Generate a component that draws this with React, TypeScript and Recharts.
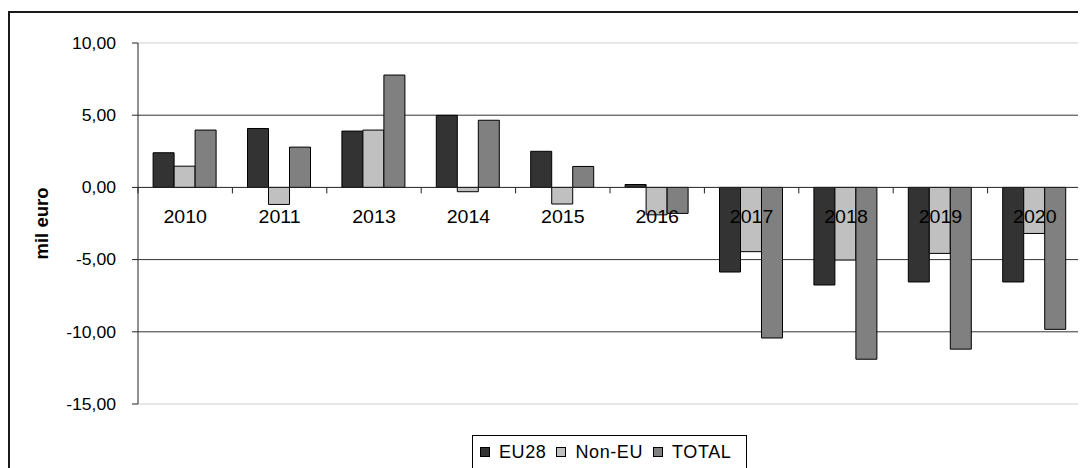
import React from 'react';
import { BarChart, Bar, XAxis, YAxis, CartesianGrid, ReferenceLine } from 'recharts';

const categories = ['2010', '2011', '2013', '2014', '2015', '2016', '2017', '2018', '2019', '2020'];
const eu28 = [2.4, 4.08, 3.9, 4.99, 2.5, 0.2, -5.86, -6.76, -6.55, -6.55];
const nonEu = [1.47, -1.18, 3.97, -0.3, -1.15, -1.9, -4.45, -5.03, -4.57, -3.19];
const total = [3.97, 2.79, 7.78, 4.65, 1.45, -1.8, -10.43, -11.9, -11.2, -9.83];
const yTicks = [10, 5, 0, -5, -10, -15];
const darkGrid = [5, -5, -10];
const lightGrid = [10, -15];
const seriesNames = ['EU28', 'Non-EU', 'TOTAL'];
const seriesColors = ['#333333', '#c0c0c0', '#808080'];

const data = categories.map((c, i) => ({ year: c, EU28: eu28[i], 'Non-EU': nonEu[i], TOTAL: total[i] }));

const W = 1078;
const H = 460;
const margin = { top: 35, right: 4, bottom: 63, left: 70 };
const Y_W = 60;
const X_H = 1;
const yMin = -15;
const yMax = 10;
const plotW = W - margin.left - margin.right - Y_W;
const plotH = H - margin.top - margin.bottom - X_H;
const zeroY = margin.top + (plotH * (yMax - 0)) / (yMax - yMin);
const band = plotW / categories.length;
const FONT = '"Liberation Sans", Arial, sans-serif';
const SX = 1.1;

const fmt = (v: number) => v.toFixed(2).replace('.', ',');

const XTick = (props: any) => {
  const { x, payload, index } = props;
  return (
    <g>
      <line x1={x - band / 2} y1={zeroY} x2={x - band / 2} y2={zeroY + 6} stroke="#222" strokeWidth={1} />
      {index === categories.length - 1 && (
        <line x1={x + band / 2} y1={zeroY} x2={x + band / 2} y2={zeroY + 6} stroke="#222" strokeWidth={1} />
      )}
      <text
        transform={`translate(${x},${zeroY + 36}) scale(1.12,1)`}
        textAnchor="middle"
        fontFamily={FONT}
        fontSize={17.5}
        fill="#000"
      >
        {payload.value}
      </text>
    </g>
  );
};

const YTick = (props: any) => {
  const { x, y, payload } = props;
  return (
    <text
      transform={`translate(${x},${y}) scale(${SX},1)`}
      textAnchor="end"
      dy="0.36em"
      fontFamily={FONT}
      fontSize={16}
      fill="#000"
    >
      {fmt(payload.value)}
    </text>
  );
};

const YLabel = () => (
  <text
    transform={`translate(${40},${margin.top + plotH / 2}) rotate(-90)`}
    textAnchor="middle"
    fontFamily={FONT}
    fontSize={18.5}
    fontWeight="bold"
    fill="#000"
  >
    mil euro
  </text>
);

const LegendBox = () => (
  <div
    style={{
      position: 'absolute',
      left: 464,
      top: 427,
      width: 275,
      height: 50,
      display: 'flex',
      alignItems: 'center',
      border: '1px solid #000',
      paddingLeft: 7,
      paddingBottom: 16,
      boxSizing: 'border-box',
      background: '#fff',
      fontFamily: FONT,
      fontSize: 18,
      letterSpacing: 0.6,
      color: '#000',
    }}
  >
    {seriesNames.map((n, i) => (
      <div key={n} style={{ display: 'flex', alignItems: 'center', marginRight: 10 }}>
        <span
          style={{
            display: 'inline-block',
            width: 8,
            height: 8,
            border: '1px solid #000',
            background: seriesColors[i],
            marginRight: 9,
          }}
        />
        <span>{n}</span>
      </div>
    ))}
  </div>
);

export default function App() {
  return (
    <div style={{ position: 'relative', width: W, height: H, background: '#fff', overflow: 'hidden' }}>
      <div
        style={{
          position: 'absolute',
          left: 0,
          top: 3,
          width: W + 10,
          height: H + 20,
          borderLeft: '2px solid #1a1a1a',
          borderTop: '2px solid #1a1a1a',
          boxSizing: 'border-box',
        }}
      />
      <div style={{ position: 'absolute', left: 0, top: 0 }}>
        <BarChart
          width={W}
          height={H}
          data={data}
          margin={margin}
          barCategoryGap="16%"
          barGap={0}
        >
          <CartesianGrid vertical={false} horizontalValues={lightGrid} stroke="#cfcfcf" strokeWidth={1} />
          <CartesianGrid vertical={false} horizontalValues={darkGrid} stroke="#333333" strokeWidth={1} />
          <XAxis
            dataKey="year"
            height={X_H}
            axisLine={false}
            tickLine={false}
            tick={<XTick />}
            interval={0}
          />
          <YAxis
            width={Y_W}
            domain={[yMin, yMax]}
            ticks={yTicks}
            interval={0}
            axisLine={{ stroke: '#222', strokeWidth: 1 }}
            tickLine={{ stroke: '#222', strokeWidth: 1 }}
            tickSize={6}
            tickMargin={16}
            tick={<YTick />}
            label={<YLabel />}
            allowDataOverflow
          />
          {seriesNames.map((n, i) => (
            <Bar
              key={n}
              dataKey={n}
              fill={seriesColors[i]}
              stroke="#000"
              strokeWidth={1}
              isAnimationActive={false}
            />
          ))}
          <ReferenceLine y={0} stroke="#222" strokeWidth={1} />
        </BarChart>
      </div>
      <LegendBox />
    </div>
  );
}
